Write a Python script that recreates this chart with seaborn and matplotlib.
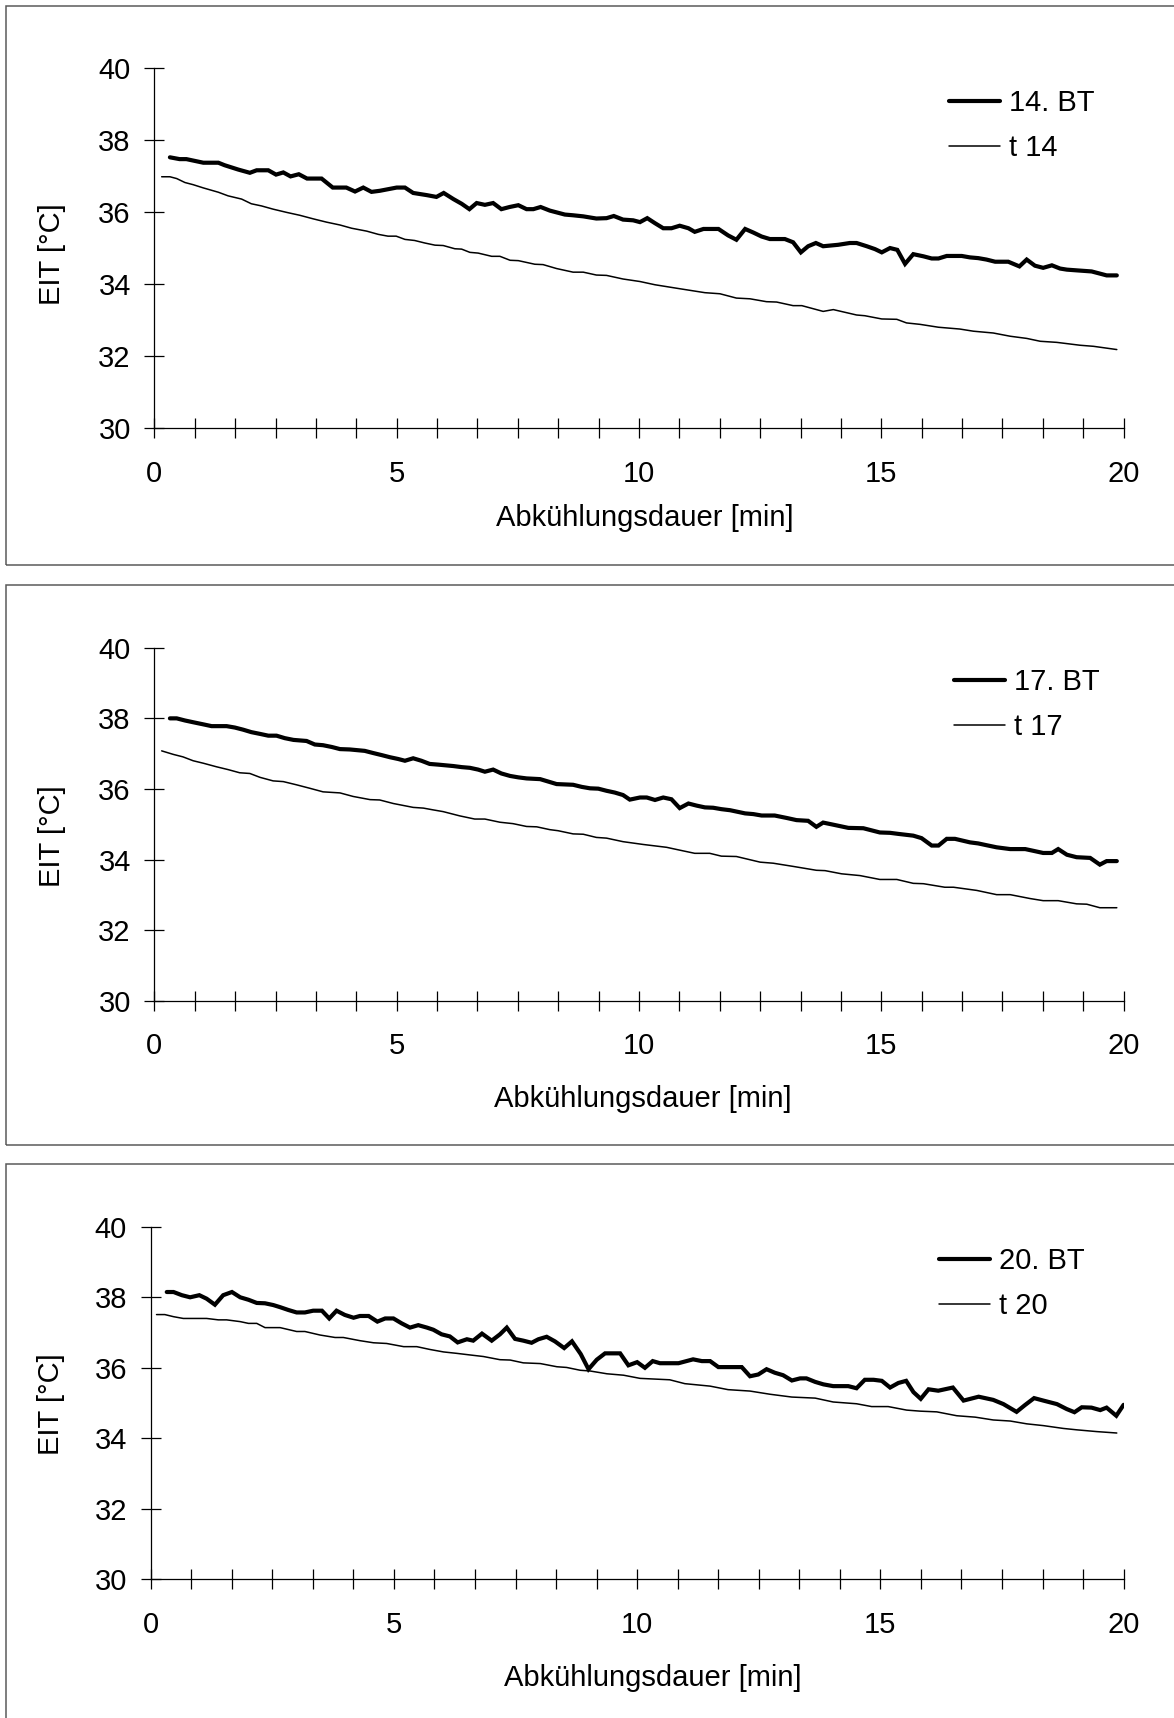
import numpy as np
import pandas as pd
import matplotlib
matplotlib.use("Agg")
import matplotlib.pyplot as plt
from matplotlib.patches import Rectangle
import seaborn as sns

# ---------------- data ----------------
x_label = "Abkühlungsdauer [min]"
y_label = "EIT [°C]"
x_tick_labels = ["0", "5", "10", "15", "20"]
y_ticks = [30, 32, 34, 36, 38, 40]

# Panel 1: 14. BT / t 14
p1_bt_x = [0.32, 0.52, 0.66, 1.01, 1.32, 1.45, 1.73, 1.97, 2.11, 2.35, 2.51, 2.66, 2.81, 2.98, 3.15, 3.45,
           3.68, 3.96, 4.14, 4.31, 4.48, 4.65, 5.0, 5.17, 5.34, 5.62, 5.82, 5.97, 6.17, 6.34, 6.5, 6.65,
           6.82, 6.99, 7.16, 7.33, 7.51, 7.68, 7.82, 7.97, 8.16, 8.47, 8.64, 8.85, 9.12, 9.33, 9.48, 9.67,
           9.88, 10.02, 10.17, 10.33, 10.50, 10.67, 10.84, 11.02, 11.15, 11.33, 11.64, 11.84, 12.01, 12.19,
           12.36, 12.53, 12.70, 13.01, 13.18, 13.34, 13.49, 13.65, 13.80, 14.11, 14.35, 14.49, 14.70, 14.87,
           15.01, 15.18, 15.33, 15.49, 15.66, 15.87, 16.04, 16.18, 16.35, 16.66, 16.83, 17.0, 17.17, 17.35,
           17.62, 17.85, 18.0, 18.17, 18.34, 18.52, 18.69, 18.83, 19.03, 19.34, 19.51, 19.65, 19.86]
p1_bt_y = [37.53, 37.48, 37.48, 37.38, 37.38, 37.31, 37.19, 37.10, 37.17, 37.17, 37.05, 37.11, 37.0, 37.06,
           36.94, 36.94, 36.69, 36.69, 36.58, 36.69, 36.57, 36.60, 36.69, 36.69, 36.54, 36.48, 36.43, 36.54,
           36.37, 36.24, 36.09, 36.26, 36.21, 36.26, 36.09, 36.15, 36.20, 36.09, 36.09, 36.15, 36.05, 35.94,
           35.92, 35.89, 35.83, 35.84, 35.90, 35.80, 35.78, 35.73, 35.84, 35.70, 35.56, 35.56, 35.63, 35.56,
           35.46, 35.54, 35.54, 35.36, 35.24, 35.54, 35.44, 35.33, 35.26, 35.26, 35.17, 34.89, 35.06, 35.15,
           35.06, 35.10, 35.15, 35.15, 35.06, 34.98, 34.89, 35.01, 34.96, 34.57, 34.84, 34.78, 34.72, 34.72,
           34.79, 34.79, 34.75, 34.73, 34.69, 34.63, 34.63, 34.50, 34.69, 34.52, 34.46, 34.53, 34.44, 34.41,
           34.39, 34.36, 34.30, 34.25, 34.25]
p1_t_x = [0.15, 0.32, 0.46, 0.63, 0.80, 1.01, 1.32, 1.52, 1.80, 2.00, 2.21, 2.45, 2.73, 3.0, 3.28, 3.55, 3.83,
          4.07, 4.38, 4.62, 4.82, 4.99, 5.17, 5.37, 5.58, 5.79, 5.96, 6.20, 6.34, 6.51, 6.68, 6.96, 7.13, 7.34,
          7.51, 7.85, 8.02, 8.30, 8.64, 8.85, 9.12, 9.33, 9.67, 10.02, 10.33, 10.84, 11.36, 11.67, 12.01, 12.29,
          12.63, 12.84, 13.18, 13.36, 13.80, 14.01, 14.49, 14.66, 15.01, 15.32, 15.52, 15.80, 16.18, 16.62,
          16.90, 17.31, 17.66, 18.0, 18.28, 18.62, 19.10, 19.38, 19.86]
p1_t_y = [36.99, 36.99, 36.94, 36.83, 36.77, 36.68, 36.56, 36.46, 36.37, 36.24, 36.18, 36.09, 36.0, 35.92,
          35.82, 35.73, 35.65, 35.56, 35.48, 35.39, 35.34, 35.34, 35.25, 35.22, 35.15, 35.09, 35.08, 34.99,
          34.98, 34.89, 34.87, 34.78, 34.78, 34.67, 34.66, 34.56, 34.55, 34.44, 34.34, 34.34, 34.26, 34.25,
          34.15, 34.08, 33.99, 33.88, 33.77, 33.74, 33.62, 33.60, 33.52, 33.51, 33.41, 33.41, 33.25, 33.30,
          33.15, 33.13, 33.04, 33.03, 32.93, 32.89, 32.81, 32.76, 32.70, 32.65, 32.56, 32.50, 32.42, 32.39,
          32.31, 32.28, 32.19]

# Panel 2: 17. BT / t 17
p2_bt_x = [0.32, 0.46, 0.63, 0.80, 1.01, 1.18, 1.49, 1.66, 1.83, 2.0, 2.18, 2.35, 2.52, 2.69, 2.87, 3.14, 3.31,
           3.48, 3.66, 3.83, 4.03, 4.34, 4.51, 4.69, 4.86, 5.03, 5.17, 5.34, 5.51, 5.68, 5.86, 6.17, 6.34, 6.51,
           6.68, 6.82, 6.99, 7.16, 7.34, 7.51, 7.68, 7.96, 8.13, 8.30, 8.64, 8.82, 8.99, 9.16, 9.33, 9.50, 9.67,
           9.81, 10.02, 10.16, 10.33, 10.50, 10.67, 10.84, 11.02, 11.19, 11.36, 11.53, 11.70, 11.88, 12.19,
           12.36, 12.53, 12.80, 13.05, 13.25, 13.49, 13.66, 13.80, 14.01, 14.32, 14.63, 14.97, 15.18, 15.35,
           15.66, 15.83, 16.04, 16.18, 16.35, 16.52, 16.83, 17.0, 17.17, 17.38, 17.66, 17.97, 18.14, 18.34,
           18.52, 18.65, 18.83, 19.03, 19.31, 19.51, 19.65, 19.86]
p2_bt_y = [38.0, 38.0, 37.94, 37.89, 37.83, 37.78, 37.78, 37.74, 37.68, 37.61, 37.56, 37.51, 37.51, 37.44,
           37.39, 37.36, 37.26, 37.24, 37.19, 37.13, 37.12, 37.08, 37.02, 36.96, 36.90, 36.85, 36.80, 36.87,
           36.80, 36.71, 36.69, 36.65, 36.62, 36.60, 36.55, 36.49, 36.55, 36.44, 36.37, 36.33, 36.30, 36.28,
           36.21, 36.14, 36.12, 36.06, 36.02, 36.01, 35.95, 35.90, 35.83, 35.70, 35.76, 35.76, 35.69, 35.76,
           35.71, 35.46, 35.59, 35.53, 35.48, 35.47, 35.43, 35.40, 35.31, 35.29, 35.25, 35.25, 35.18, 35.12,
           35.10, 34.93, 35.05, 34.99, 34.90, 34.89, 34.77, 34.76, 34.73, 34.68, 34.61, 34.40, 34.40, 34.59,
           34.59, 34.49, 34.46, 34.41, 34.35, 34.30, 34.30, 34.25, 34.19, 34.19, 34.30, 34.14, 34.07, 34.05,
           33.86, 33.96, 33.96]
p2_t_x = [0.15, 0.39, 0.59, 0.80, 1.01, 1.28, 1.52, 1.76, 1.97, 2.18, 2.45, 2.66, 2.93, 3.21, 3.48, 3.83, 4.10,
          4.45, 4.65, 4.93, 5.34, 5.55, 5.75, 5.96, 6.30, 6.61, 6.82, 7.13, 7.40, 7.68, 7.89, 8.16, 8.33, 8.64,
          8.85, 9.12, 9.33, 9.67, 10.09, 10.57, 10.84, 11.15, 11.46, 11.70, 12.01, 12.50, 12.77, 13.18, 13.66,
          13.84, 14.18, 14.56, 14.97, 15.32, 15.66, 15.87, 16.31, 16.49, 16.97, 17.38, 17.66, 18.07, 18.34,
          18.65, 19.03, 19.24, 19.51, 19.86]
p2_t_y = [37.08, 36.98, 36.91, 36.80, 36.73, 36.63, 36.55, 36.46, 36.44, 36.33, 36.23, 36.21, 36.12, 36.02,
          35.92, 35.89, 35.79, 35.70, 35.69, 35.59, 35.48, 35.46, 35.41, 35.36, 35.24, 35.15, 35.15, 35.06,
          35.02, 34.94, 34.93, 34.85, 34.82, 34.73, 34.72, 34.63, 34.61, 34.51, 34.43, 34.35, 34.27, 34.18,
          34.18, 34.10, 34.09, 33.93, 33.90, 33.81, 33.70, 33.69, 33.60, 33.55, 33.44, 33.44, 33.33, 33.32,
          33.22, 33.22, 33.13, 33.01, 33.01, 32.90, 32.84, 32.84, 32.75, 32.74, 32.64, 32.64]

# Panel 3: 20. BT / t 20
p3_bt_x = [0.33, 0.47, 0.64, 0.81, 1.0, 1.15, 1.32, 1.49, 1.67, 1.84, 2.01, 2.18, 2.35, 2.52, 2.66, 2.83, 3.0,
           3.17, 3.34, 3.52, 3.67, 3.82, 3.99, 4.17, 4.30, 4.48, 4.66, 4.82, 4.99, 5.16, 5.33, 5.50, 5.68, 5.81,
           5.98, 6.15, 6.31, 6.50, 6.63, 6.81, 7.01, 7.18, 7.32, 7.49, 7.66, 7.83, 7.97, 8.14, 8.31, 8.50, 8.66,
           8.84, 9.0, 9.17, 9.34, 9.65, 9.82, 10.0, 10.16, 10.32, 10.47, 10.85, 11.15, 11.33, 11.50, 11.67,
           12.15, 12.32, 12.49, 12.66, 12.83, 13.0, 13.18, 13.35, 13.48, 13.66, 13.83, 14.03, 14.34, 14.51,
           14.68, 14.86, 15.03, 15.20, 15.37, 15.53, 15.68, 15.83, 15.99, 16.19, 16.49, 16.71, 17.02, 17.32,
           17.53, 17.80, 17.97, 18.16, 18.35, 18.63, 18.83, 18.99, 19.14, 19.34, 19.52, 19.65, 19.85, 20.0]
p3_bt_y = [38.15, 38.15, 38.06, 38.0, 38.06, 37.96, 37.79, 38.06, 38.15, 38.0, 37.93, 37.84, 37.83, 37.78,
           37.72, 37.64, 37.57, 37.57, 37.62, 37.62, 37.40, 37.62, 37.50, 37.42, 37.47, 37.47, 37.31, 37.40,
           37.40, 37.26, 37.14, 37.21, 37.14, 37.08, 36.95, 36.89, 36.72, 36.81, 36.77, 36.97, 36.77, 36.95,
           37.14, 36.82, 36.77, 36.71, 36.81, 36.88, 36.75, 36.56, 36.75, 36.39, 35.96, 36.23, 36.41, 36.41,
           36.07, 36.16, 36.0, 36.19, 36.13, 36.13, 36.24, 36.19, 36.19, 36.02, 36.02, 35.76, 35.81, 35.96,
           35.86, 35.79, 35.64, 35.70, 35.70, 35.60, 35.53, 35.48, 35.48, 35.42, 35.66, 35.66, 35.63, 35.44,
           35.57, 35.63, 35.31, 35.12, 35.39, 35.35, 35.44, 35.07, 35.18, 35.09, 34.97, 34.75, 34.94, 35.14,
           35.07, 34.97, 34.83, 34.74, 34.88, 34.87, 34.80, 34.87, 34.64, 34.95]
p3_t_x = [0.12, 0.29, 0.47, 0.67, 1.15, 1.39, 1.56, 1.84, 2.01, 2.18, 2.35, 2.66, 3.0, 3.17, 3.48, 3.79, 3.96,
          4.30, 4.58, 4.85, 5.20, 5.47, 5.74, 6.02, 6.29, 6.53, 6.84, 7.18, 7.39, 7.66, 8.01, 8.35, 8.55, 8.83,
          9.03, 9.38, 9.72, 10.06, 10.67, 10.98, 11.50, 11.87, 12.32, 12.73, 13.18, 13.66, 14.03, 14.51, 14.82,
          15.16, 15.54, 15.82, 16.16, 16.57, 16.95, 17.32, 17.67, 18.01, 18.35, 18.76, 19.04, 19.45, 19.86]
p3_t_y = [37.51, 37.51, 37.45, 37.40, 37.40, 37.36, 37.36, 37.31, 37.26, 37.26, 37.14, 37.14, 37.03, 37.03,
          36.93, 36.86, 36.86, 36.77, 36.71, 36.69, 36.60, 36.60, 36.52, 36.45, 36.41, 36.37, 36.32, 36.23,
          36.22, 36.14, 36.12, 36.03, 36.01, 35.93, 35.91, 35.83, 35.79, 35.70, 35.66, 35.55, 35.48, 35.38,
          35.34, 35.25, 35.17, 35.14, 35.03, 34.98, 34.90, 34.90, 34.80, 34.77, 34.75, 34.64, 34.60, 34.52,
          34.49, 34.41, 34.36, 34.28, 34.24, 34.19, 34.15]

panels = [
    ("14. BT", p1_bt_x, p1_bt_y, "t 14", p1_t_x, p1_t_y),
    ("17. BT", p2_bt_x, p2_bt_y, "t 17", p2_t_x, p2_t_y),
    ("20. BT", p3_bt_x, p3_bt_y, "t 20", p3_t_x, p3_t_y),
]

# ---------------- layout / style ----------------
W, H = 1174, 1718
sns.set_theme(style="white")
plt.rcParams["font.family"] = ["Liberation Sans", "DejaVu Sans"]
FS = 21

fig = plt.figure(figsize=(W / 100, H / 100), dpi=100)

# axes rectangles in pixels: (left, right, y40, y30)
ax_px = [(154.4, 1123.6, 68.4, 428.4),
         (154.4, 1123.6, 647.7, 1001.0),
         (150.7, 1123.6, 1226.8, 1579.3)]
# panel frames in pixels: (top, bottom)
frame_px = [(5.5, 565.0), (584.8, 1145.0), (1163.8, 1730.0)]
ylabel_pos = [(-0.106, 0.483), (-0.106, 0.466), (-0.102, 0.498)]
xlabel_pos = [(0.506, -0.250), (0.504, -0.277), (0.516, -0.281)]
legend_pos = [(0.820, 0.942), (0.825, 0.942), (0.810, 0.943)]

xt = np.arange(25) * 5 / 6

for i, (bt_lab, bx, by, t_lab, tx, ty) in enumerate(panels):
    # outer frame
    top, bot = frame_px[i]
    fig.add_artist(Rectangle((5.7 / W, 1 - bot / H), 1.2, (bot - top) / H,
                             transform=fig.transFigure, fill=False,
                             edgecolor="#5a5a5a", linewidth=1.1, zorder=0))
    l, r, y40, y30 = ax_px[i]
    ax = fig.add_axes([l / W, 1 - y30 / H, (r - l) / W, (y30 - y40) / H])
    ax.patch.set_alpha(0)

    df_bt = pd.DataFrame({"t": bx, "v": by})
    df_t = pd.DataFrame({"t": tx, "v": ty})
    sns.lineplot(data=df_bt, x="t", y="v", ax=ax, color="black", linewidth=3.0,
                 label=bt_lab, estimator=None, sort=False, solid_joinstyle="miter")
    sns.lineplot(data=df_t, x="t", y="v", ax=ax, color="black", linewidth=1.1,
                 label=t_lab, estimator=None, sort=False)

    ax.set_xlim(0, 20)
    ax.set_ylim(30, 40)
    ax.set_xticks(xt)
    ax.set_xticklabels([x_tick_labels[k // 6] if k % 6 == 0 else "" for k in range(25)])
    ax.set_yticks(y_ticks)
    ax.set_yticklabels([str(v) for v in y_ticks])
    ax.tick_params(axis="both", which="major", direction="inout", length=14, width=0.9,
                   color="black", labelsize=FS, labelcolor="black",
                   bottom=True, left=True, top=False, right=False)
    ax.tick_params(axis="x", pad=15.5)
    ax.tick_params(axis="y", pad=10)
    for s in ["top", "right"]:
        ax.spines[s].set_visible(False)
    for s in ["left", "bottom"]:
        ax.spines[s].set_color("black")
        ax.spines[s].set_linewidth(0.9)
    ax.grid(False)

    ax.set_xlabel(x_label, fontsize=FS, color="black", va="center", ha="center")
    ax.xaxis.set_label_coords(*xlabel_pos[i])
    ax.set_ylabel(y_label, fontsize=FS, color="black", va="center", ha="center")
    ax.yaxis.set_label_coords(*ylabel_pos[i])

    leg = ax.legend(loc="upper left", bbox_to_anchor=legend_pos[i], frameon=False,
                    fontsize=FS, handlelength=1.75, handletextpad=0.3,
                    borderpad=0, borderaxespad=0, labelspacing=0.58)
    for txt in leg.get_texts():
        txt.set_color("black")

fig.savefig("out.png", dpi=100, facecolor="white")
